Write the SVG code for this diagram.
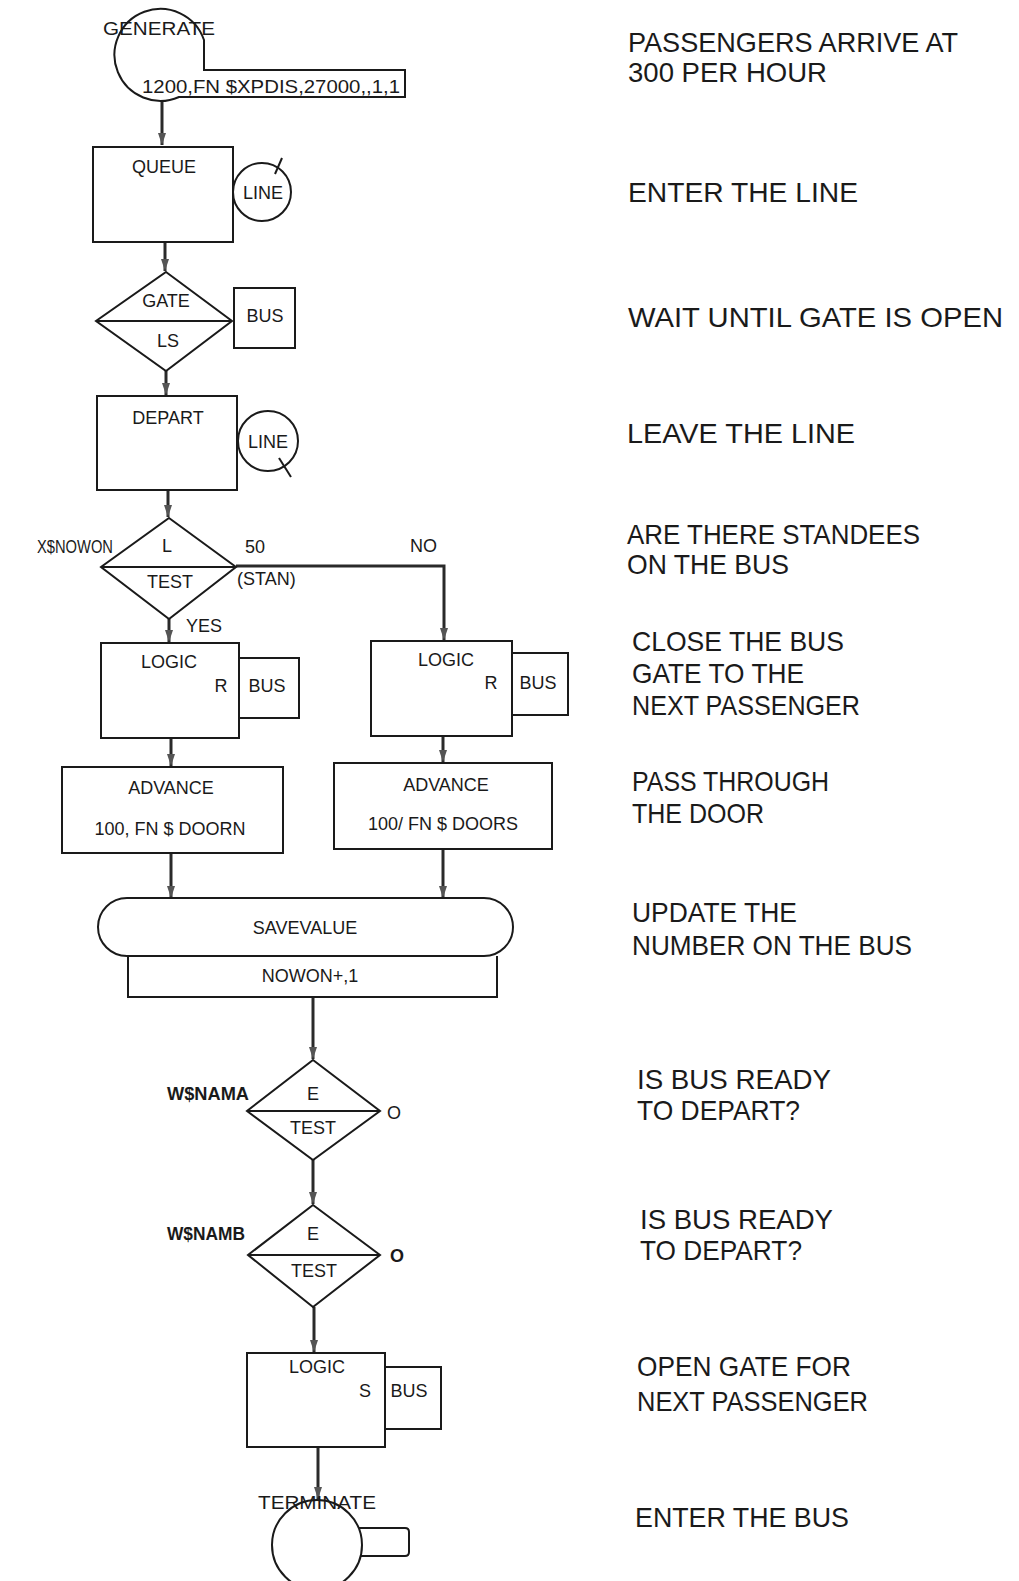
<svg xmlns="http://www.w3.org/2000/svg" width="1019" height="1581" viewBox="0 0 1019 1581">
<style>
.s{fill:none;stroke:#1a1a1a;stroke-width:2}
.c{fill:none;stroke:#2a2a2a;stroke-width:3}
.t{font-family:"Liberation Sans",Arial,sans-serif;font-size:18px;fill:#1a1a1a;text-anchor:middle}
.l{font-family:"Liberation Sans",Arial,sans-serif;font-size:18px;fill:#1a1a1a}
.a{font-family:"Liberation Sans",Arial,sans-serif;font-size:28px;fill:#1a1a1a}
</style>
<defs>
<marker id="ar" markerUnits="userSpaceOnUse" viewBox="0 0 12 8" refX="12" refY="4" markerWidth="12" markerHeight="8" orient="auto">
<path d="M0,0 L12,4 L0,8 z" fill="#555"/>
</marker>
</defs>
<rect width="1019" height="1581" fill="#fff"/>

<g id="connectors">
<line class="c" x1="162" y1="101" x2="162" y2="145" marker-end="url(#ar)"/>
<line class="c" x1="165" y1="242" x2="165" y2="271" marker-end="url(#ar)"/>
<line class="c" x1="166" y1="371" x2="166" y2="395" marker-end="url(#ar)"/>
<line class="c" x1="168" y1="490" x2="168" y2="517" marker-end="url(#ar)"/>
<line class="c" x1="169" y1="619" x2="169" y2="642" marker-end="url(#ar)"/>
<polyline class="c" points="236,566 444,566 444,640" marker-end="url(#ar)"/>
<line class="c" x1="171" y1="738" x2="171" y2="766" marker-end="url(#ar)"/>
<line class="c" x1="443" y1="736" x2="443" y2="762" marker-end="url(#ar)"/>
<line class="c" x1="171" y1="853" x2="171" y2="898" marker-end="url(#ar)"/>
<line class="c" x1="443" y1="849" x2="443" y2="898" marker-end="url(#ar)"/>
<line class="c" x1="313" y1="997" x2="313" y2="1059" marker-end="url(#ar)"/>
<line class="c" x1="313" y1="1160" x2="313" y2="1204" marker-end="url(#ar)"/>
<line class="c" x1="314" y1="1307" x2="314" y2="1352" marker-end="url(#ar)"/>
<line class="c" x1="318" y1="1447" x2="318" y2="1499" marker-end="url(#ar)"/>
</g>

<g id="generate">
<path class="s" d="M204 70 L204 40 A46 46 0 1 0 179 97 L405 97 L405 70 Z"/>
<text class="t" x="159" y="35" textLength="112" lengthAdjust="spacingAndGlyphs">GENERATE</text>
<text class="l" x="142" y="93" textLength="258" lengthAdjust="spacingAndGlyphs">1200,FN $XPDIS,27000,,1,1</text>
</g>

<g id="queue">
<rect class="s" x="93" y="147" width="140" height="95"/>
<text class="t" x="164" y="173">QUEUE</text>
<circle class="s" cx="262" cy="192" r="29"/>
<line class="s" x1="275" y1="174" x2="282" y2="158"/>
<text class="t" x="263" y="199">LINE</text>
</g>

<g id="gate">
<polygon class="s" points="166,272 232,321 166,371 96,321"/>
<line class="s" x1="96" y1="321" x2="232" y2="321"/>
<text class="t" x="166" y="307">GATE</text>
<text class="t" x="168" y="347">LS</text>
<rect class="s" x="234" y="288" width="61" height="60"/>
<text class="t" x="265" y="322">BUS</text>
</g>

<g id="depart">
<rect class="s" x="97" y="396" width="140" height="94"/>
<text class="t" x="168" y="424">DEPART</text>
<circle class="s" cx="268" cy="441" r="30"/>
<line class="s" x1="279" y1="458" x2="291" y2="477"/>
<text class="t" x="268" y="448">LINE</text>
</g>

<g id="test-standees">
<polygon class="s" points="169,518 236,567 169,619 101,567"/>
<line class="s" x1="101" y1="567" x2="236" y2="567"/>
<text class="t" x="167" y="552">L</text>
<text class="t" x="170" y="588">TEST</text>
<text class="l" x="37" y="553" textLength="76" lengthAdjust="spacingAndGlyphs">X$NOWON</text>
<text class="l" x="245" y="553">50</text>
<text class="l" x="237" y="585">(STAN)</text>
<text class="l" x="410" y="552">NO</text>
<text class="l" x="186" y="632">YES</text>
</g>

<g id="logic-r-left">
<rect class="s" x="101" y="643" width="138" height="95"/>
<text class="t" x="169" y="668">LOGIC</text>
<text class="t" x="221" y="692">R</text>
<path class="s" d="M239 658 L299 658 L299 718 L239 718"/>
<text class="t" x="267" y="692">BUS</text>
</g>

<g id="logic-r-right">
<rect class="s" x="371" y="641" width="141" height="95"/>
<text class="t" x="446" y="666">LOGIC</text>
<text class="t" x="491" y="689">R</text>
<path class="s" d="M512 653 L568 653 L568 715 L512 715"/>
<text class="t" x="538" y="689">BUS</text>
</g>

<g id="advance-left">
<rect class="s" x="62" y="767" width="221" height="86"/>
<text class="t" x="171" y="794">ADVANCE</text>
<text class="t" x="170" y="835">100, FN $ DOORN</text>
</g>

<g id="advance-right">
<rect class="s" x="334" y="763" width="218" height="86"/>
<text class="t" x="446" y="791">ADVANCE</text>
<text class="t" x="443" y="830">100/ FN $ DOORS</text>
</g>

<g id="savevalue">
<rect class="s" x="98" y="898" width="415" height="58" rx="29"/>
<path class="s" d="M128 956 L128 997 L497 997 L497 956"/>
<text class="t" x="305" y="934">SAVEVALUE</text>
<text class="t" x="310" y="982">NOWON+,1</text>
</g>

<g id="test-nama">
<polygon class="s" points="313,1060 380,1111 313,1160 247,1111"/>
<line class="s" x1="247" y1="1111" x2="380" y2="1111"/>
<text class="t" x="313" y="1100">E</text>
<text class="t" x="313" y="1134">TEST</text>
<text class="l" x="167" y="1100" font-weight="bold" textLength="82" lengthAdjust="spacingAndGlyphs">W$NAMA</text>
<text class="l" x="387" y="1119">O</text>
</g>

<g id="test-namb">
<polygon class="s" points="313,1205 380,1255 313,1307 248,1255"/>
<line class="s" x1="248" y1="1255" x2="380" y2="1255"/>
<text class="t" x="313" y="1240">E</text>
<text class="t" x="314" y="1277">TEST</text>
<text class="l" x="167" y="1240" font-weight="bold" textLength="78" lengthAdjust="spacingAndGlyphs">W$NAMB</text>
<text class="l" x="390" y="1262" font-weight="bold">O</text>
</g>

<g id="logic-s">
<rect class="s" x="247" y="1353" width="138" height="94"/>
<text class="t" x="317" y="1373">LOGIC</text>
<text class="t" x="365" y="1397">S</text>
<path class="s" d="M385 1367 L441 1367 L441 1429 L385 1429"/>
<text class="t" x="409" y="1397">BUS</text>
</g>

<g id="terminate">
<circle class="s" cx="317" cy="1545" r="45"/>
<path class="s" d="M359 1528 L405 1528 Q409 1528 409 1532 L409 1552 Q409 1556 405 1556 L361 1556"/>
<text class="t" x="317" y="1509" textLength="118" lengthAdjust="spacingAndGlyphs">TERMINATE</text>
</g>

<g id="annotations">
<text class="a" x="628" y="52" textLength="330" lengthAdjust="spacingAndGlyphs">PASSENGERS ARRIVE AT</text>
<text class="a" x="628" y="82" textLength="199" lengthAdjust="spacingAndGlyphs">300 PER HOUR</text>
<text class="a" x="628" y="202" textLength="230" lengthAdjust="spacingAndGlyphs">ENTER THE LINE</text>
<text class="a" x="628" y="327" textLength="375" lengthAdjust="spacingAndGlyphs">WAIT UNTIL GATE IS OPEN</text>
<text class="a" x="627" y="443" textLength="228" lengthAdjust="spacingAndGlyphs">LEAVE THE LINE</text>
<text class="a" x="627" y="544" textLength="293" lengthAdjust="spacingAndGlyphs">ARE THERE STANDEES</text>
<text class="a" x="627" y="574" textLength="162" lengthAdjust="spacingAndGlyphs">ON THE BUS</text>
<text class="a" x="632" y="651" textLength="212" lengthAdjust="spacingAndGlyphs">CLOSE THE BUS</text>
<text class="a" x="632" y="683" textLength="172" lengthAdjust="spacingAndGlyphs">GATE TO THE</text>
<text class="a" x="632" y="715" textLength="228" lengthAdjust="spacingAndGlyphs">NEXT PASSENGER</text>
<text class="a" x="632" y="791" textLength="197" lengthAdjust="spacingAndGlyphs">PASS THROUGH</text>
<text class="a" x="632" y="823" textLength="132" lengthAdjust="spacingAndGlyphs">THE DOOR</text>
<text class="a" x="632" y="922" textLength="165" lengthAdjust="spacingAndGlyphs">UPDATE THE</text>
<text class="a" x="632" y="955" textLength="280" lengthAdjust="spacingAndGlyphs">NUMBER ON THE BUS</text>
<text class="a" x="637" y="1089" textLength="194" lengthAdjust="spacingAndGlyphs">IS BUS READY</text>
<text class="a" x="637" y="1120" textLength="163" lengthAdjust="spacingAndGlyphs">TO DEPART?</text>
<text class="a" x="640" y="1229" textLength="193" lengthAdjust="spacingAndGlyphs">IS BUS READY</text>
<text class="a" x="640" y="1260" textLength="162" lengthAdjust="spacingAndGlyphs">TO DEPART?</text>
<text class="a" x="637" y="1376" textLength="214" lengthAdjust="spacingAndGlyphs">OPEN GATE FOR</text>
<text class="a" x="637" y="1411" textLength="231" lengthAdjust="spacingAndGlyphs">NEXT PASSENGER</text>
<text class="a" x="635" y="1527" textLength="214" lengthAdjust="spacingAndGlyphs">ENTER THE BUS</text>
</g>
</svg>
